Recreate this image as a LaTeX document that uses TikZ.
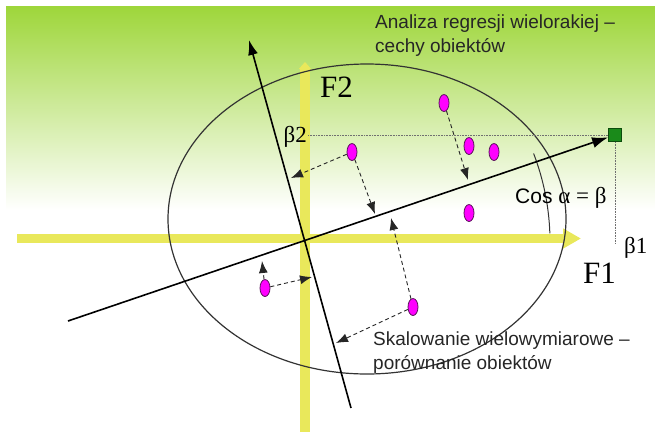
\documentclass[tikz,border=0pt]{standalone}
\usepackage{fontspec}
\setmainfont{Liberation Sans}
\newfontfamily\seriffont{Liberation Serif}
\usetikzlibrary{arrows.meta,shapes.geometric}
\definecolor{LeafGreen}{HTML}{9ED63A}
\definecolor{AxisYellow}{HTML}{E9E85B}
\definecolor{DotMagenta}{HTML}{FF00FF}
\definecolor{DotEdge}{HTML}{5A145A}
\definecolor{SquareGreen}{HTML}{1A8A1A}
\definecolor{SquareEdge}{HTML}{0B4D0B}
\definecolor{Guide}{HTML}{707070}
\tikzset{
  objdot/.style={ellipse,draw=DotEdge,line width=0.8pt,fill=DotMagenta,
              minimum width=10pt,minimum height=17pt,inner sep=0pt},
  betasquare/.style={draw=SquareEdge,fill=SquareGreen,line width=0.8pt,
              minimum size=13pt,inner sep=0pt},
  yellowaxis/.style={draw=AxisYellow,line width=9.5pt},
  factoraxis/.style={draw=black,line width=1.6pt},
  projflow/.style={-{Latex[length=12pt,width=9pt]},dash pattern=on 4pt off 3pt,
              line width=0.9pt,draw=black!85},
  guide/.style={densely dotted,line width=0.6pt,draw=Guide},
  note/.style={font=\fontsize{19}{23.5}\selectfont,align=left,inner sep=0pt,text=black!85},
  greek/.style={font=\seriffont\fontsize{23}{23}\selectfont,inner sep=0pt},
  factor/.style={font=\seriffont\fontsize{31}{31}\selectfont,inner sep=0pt}
}

\begin{document}
\begin{tikzpicture}[x=1pt,y=-1pt]
  \useasboundingbox (0,0) rectangle (655,432);
  \shade[top color=LeafGreen,bottom color=white] (6,6) rectangle (655,210);

  % yellow F1 / F2 axes
  \coordinate (f1start) at (17,238.5);
  \coordinate (f1end) at (581,238.5);
  \coordinate (f2start) at (305,432);
  \coordinate (f2end) at (305,62);
  \draw[yellowaxis,-{Triangle[length=18pt,width=19pt]}] (f1start) -- (f1end);
  \draw[yellowaxis,-{Triangle[length=7pt,width=12pt]}] (f2start) -- (f2end);

  % ellipse and angle arc
  \draw[line width=1.2pt,draw=black!80] (367,219) ellipse [x radius=199,y radius=155];
  \coordinate (origin) at (303,242);
  \draw[line width=1pt,draw=black!80] (origin) ++(-21:247) arc[start angle=-21,end angle=-2,radius=247];

  % rotated axes
  \node[betasquare] (beta) at (615,135) {};
  \coordinate (l1start) at (68,321);
  \coordinate (l2start) at (351,408);
  \coordinate (l2end) at (249,40);
  \draw[factoraxis,-{Latex[length=16pt,width=11pt]}] (l1start) -- (beta);
  \draw[factoraxis,-{Latex[length=15pt,width=10pt]}] (l2start) -- (l2end);

  % beta labels and guides
  \node[greek,anchor=base east] (b2) at (307,142) {β2};
  \node[greek,anchor=base west] (b1) at (624,253) {β1};
  \coordinate (b2foot) at (308,135);
  \coordinate (b1foot) at (615,243);
  \draw[guide] (b2foot) -- (beta.west);
  \draw[guide] (beta.south) -- (b1foot);
  \node[factor,anchor=base west] (f2) at (320,97) {F2};
  \node[factor,anchor=base west] (f1) at (583,283) {F1};
  \node[anchor=base west,inner sep=0pt,font=\fontsize{21}{21}\selectfont] (cosab) at (515,203)
    {Cos {\seriffont\fontsize{23}{23}\selectfont α = β}};

  % objects
  \node[objdot] (p1) at (444,103) {};
  \node[objdot] (p2) at (352,152) {};
  \node[objdot] (p3) at (469,146) {};
  \node[objdot] (p4) at (494,152) {};
  \node[objdot] (p5) at (469,213) {};
  \node[objdot] (p6) at (265,288) {};
  \node[objdot] (p7) at (413,307) {};

  % projections
  \coordinate (t1a) at (468,180);
  \coordinate (t2a) at (375,214);
  \coordinate (t2b) at (291,178);
  \coordinate (t6a) at (262,261);
  \coordinate (t6b) at (312,277);
  \coordinate (t7a) at (391,218);
  \coordinate (t7b) at (336,343);
  \draw[projflow] (p1) -- (t1a);
  \draw[projflow] (p2) -- (t2a);
  \draw[projflow] (p2) -- (t2b);
  \draw[projflow] (p6) -- (t6a);
  \draw[projflow] (p6) -- (t6b);
  \draw[projflow] (p7) -- (t7a);
  \draw[projflow] (p7) -- (t7b);

  % captions (base anchor sits on the last line)
  \node[note,anchor=base west] (regtext) at (375,52) {Analiza regresji wielorakiej –\\cechy obiektów};
  \node[note,anchor=base west] (mdstext) at (373,369) {Skalowanie wielowymiarowe –\\porównanie obiektów};
\end{tikzpicture}
\end{document}
